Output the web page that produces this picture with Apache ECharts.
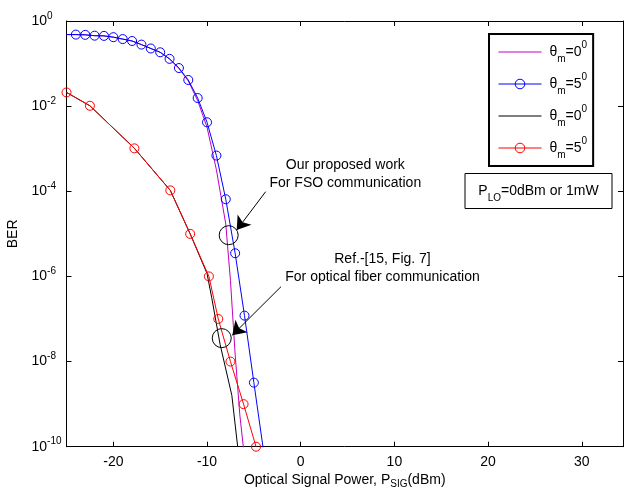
<!DOCTYPE html>
<html><head><meta charset="utf-8">
<script src="https://cdn.jsdelivr.net/npm/echarts@6/dist/echarts.min.js"></script>
<style>html,body{margin:0;padding:0;background:#fff}#c{width:625px;height:490px}</style>
</head><body><div id="c"></div>
<script>
const FONT = '"Liberation Sans", Arial, Helvetica, sans-serif';

// tick labels
const xTicks = [-20, -10, 0, 10, 20, 30];
const yTicks = [1e-10, 1e-8, 1e-6, 1e-4, 1e-2, 1];

// series names and legend angles
const seriesNames = ['FSO θm=0', 'FSO θm=5', 'Fiber θm=0', 'Fiber θm=5'];
const legendAngles = ['0', '5', '0', '5'];

// magenta: theta_m = 0 (our work, FSO)
const magX = [-25, -24, -23, -22, -21, -20, -19, -18, -17, -16, -15, -14, -13, -12, -11, -10, -9, -8, -7.5, -7, -6.5, -6];
const magY = [0.48, 0.479, 0.473, 0.452, 0.447, 0.417, 0.376, 0.339, 0.279, 0.226, 0.184, 0.128, 0.077, 0.039, 0.0135, 3.2e-3, 3.2e-4, 1.7e-5, 8.1e-7, 1.5e-8, 5.6e-10, 5.5e-11];

// blue: theta_m = 5 (our work, FSO), markers from -24 to -5
const blueX = [-25, -24, -23, -22, -21, -20, -19, -18, -17, -16, -15, -14, -13, -12, -11, -10, -9, -8, -7, -6, -5, -4];
const blueY = [0.48, 0.479, 0.473, 0.452, 0.447, 0.417, 0.376, 0.339, 0.279, 0.226, 0.184, 0.129, 0.0785, 0.0411, 0.0155, 4.17e-3, 6.9e-4, 6.5e-5, 3.5e-6, 1.2e-7, 3.2e-9, 8.9e-11];

// black: theta_m = 0 (Ref. fiber)
const blackX = [-25, -22.5, -17.75, -13.92, -11.8, -10.0, -9.5, -8.6, -7.35, -6.73];
const blackY = [0.021, 0.0102, 1.02e-3, 1.05e-4, 1.0e-5, 1.17e-6, 3.16e-7, 2.5e-8, 1.6e-9, 1.0e-10];

// red: theta_m = 5 (Ref. fiber)
const redX = [-25, -22.5, -17.75, -13.92, -11.8, -9.8, -8.8, -7.5, -6.1, -4.77];
const redY = [0.021, 0.0102, 1.02e-3, 1.05e-4, 1.0e-5, 1.0e-6, 1.0e-7, 1.0e-8, 1.0e-9, 1.0e-10];

// annotations (data coordinates)
const annotCircles = [[-7.69, 9.3e-6], [-8.43, 3.55e-8]];
const annotArrows = [[[-3.74, 9.8e-5], [-6.83, 1.23e-5]], [[-2.10, 5.75e-7], [-7.30, 4.17e-8]]];
const annotTexts = [
  { text: 'Our proposed work\nFor FSO communication', at: [4.76, 2.48e-4] },
  { text: 'Ref.-[15, Fig. 7]\nFor optical fiber communication', at: [8.73, 1.53e-6] }
];
const ploText = ['P', 'LO', '=0dBm or 1mW'];

const MAG = '#c000c0', BLUE = '#0000ff', BLACK = '#000000', RED = '#ff0000';
const seriesColors = [MAG, BLUE, BLACK, RED];
const seriesHasMarker = [false, true, false, true];

const richSmall = {
  t: { fontSize: 14, lineHeight: 24, fontFamily: FONT, color: '#000' },
  s: { fontSize: 10, lineHeight: 10, verticalAlign: 'bottom', fontFamily: FONT, color: '#000' },
  p: { fontSize: 10, lineHeight: 10, verticalAlign: 'top', fontFamily: FONT, color: '#000' }
};

function lineSeries(name, xs, ys, color, marker, markerFilter) {
  const data = xs.map((x, i) => {
    const item = { value: [x, ys[i]] };
    if (marker && markerFilter && !markerFilter(i)) item.symbol = 'none';
    return item;
  });
  return {
    name: name, type: 'line', data: data,
    symbol: marker ? 'circle' : 'none', symbolSize: 9, showSymbol: !!marker,
    color: color,
    lineStyle: { color: color, width: 1 },
    itemStyle: marker ? { color: 'rgba(255,255,255,0)', borderColor: color, borderWidth: 1 } : { color: color },
    emphasis: { disabled: true }, animation: false, clip: true
  };
}

const series = [
  lineSeries(seriesNames[0], magX, magY, MAG, false),
  lineSeries(seriesNames[1], blueX, blueY, BLUE, true, i => i > 0 && i < blueX.length - 1),
  lineSeries(seriesNames[2], blackX, blackY, BLACK, false),
  lineSeries(seriesNames[3], redX, redY, RED, true, () => true)
];

// annotations on the black series
series[2].markPoint = {
  silent: true, animation: false,
  data: annotCircles.map(c => ({
    coord: c, symbol: 'circle', symbolSize: 19,
    itemStyle: { color: 'rgba(0,0,0,0)', borderColor: '#000', borderWidth: 1 },
    label: { show: false }
  })).concat(annotTexts.map(t => ({
    coord: t.at, symbol: 'circle', symbolSize: 1,
    itemStyle: { color: 'rgba(0,0,0,0)' },
    label: { show: true, position: 'inside', formatter: t.text, fontSize: 14, lineHeight: 18, fontFamily: FONT, color: '#000', align: 'center', verticalAlign: 'middle' }
  })))
};
series[2].markLine = {
  silent: true, animation: false,
  symbol: ['none', 'arrow'], symbolSize: 13,
  lineStyle: { color: '#000', width: 1, type: 'solid' },
  label: { show: false },
  data: annotArrows.map(a => [{ coord: a[0] }, { coord: a[1] }])
};

const legendData = seriesNames.map((n, i) => seriesHasMarker[i]
  ? { name: n }
  : { name: n, icon: 'path://M0,0H43V1H0Z', itemStyle: { color: seriesColors[i] } });

const chart = echarts.init(document.getElementById('c'), null, { renderer: 'canvas' });
chart.setOption({
  backgroundColor: '#fff',
  animation: false,
  textStyle: { fontFamily: FONT },
  grid: { left: 66.5, right: 2, top: 21, bottom: 43.3, containLabel: false, outerBoundsMode: 'none' },
  xAxis: [{
    type: 'value', min: -25, max: 34.4, position: 'bottom',
    axisLine: { show: true, onZero: false, lineStyle: { color: '#000', width: 1 } },
    axisTick: { show: true, inside: true, length: 5, customValues: xTicks, lineStyle: { color: '#000' } },
    axisLabel: { show: true, customValues: xTicks, fontSize: 14, color: '#000', margin: 8, fontFamily: FONT },
    splitLine: { show: false },
    name: '{t|Optical Signal Power, P}{s|SIG}{t|(dBm)}',
    nameLocation: 'middle', nameGap: 24,
    nameTextStyle: { rich: { t: { fontSize: 14, lineHeight: 18, fontFamily: FONT, color: '#000' }, s: { fontSize: 10, lineHeight: 10, verticalAlign: 'bottom', fontFamily: FONT, color: '#000' } } }
  }, {
    type: 'value', min: -25, max: 34.4, position: 'top',
    axisLine: { show: true, onZero: false, lineStyle: { color: '#000', width: 1 } },
    axisTick: { show: true, inside: true, length: 5, customValues: xTicks, lineStyle: { color: '#000' } },
    axisLabel: { show: false }, splitLine: { show: false }
  }],
  yAxis: [{
    type: 'log', logBase: 10, min: 1e-10, max: 1, position: 'left',
    axisLine: { show: true, onZero: false, lineStyle: { color: '#000', width: 1 } },
    axisTick: { show: true, inside: true, length: 5, customValues: yTicks, lineStyle: { color: '#000' } },
    axisLabel: {
      show: true, customValues: yTicks, align: 'left', margin: 35,
      formatter: v => '{b|10}{p|' + Math.round(Math.log10(v)) + '}',
      rich: {
        b: { fontSize: 14, lineHeight: 20, fontFamily: FONT, color: '#000' },
        p: { fontSize: 10, lineHeight: 10, verticalAlign: 'top', fontFamily: FONT, color: '#000' }
      }
    },
    minorTick: { show: false }, splitLine: { show: false },
    name: 'BER', nameLocation: 'middle', nameGap: 46,
    nameTextStyle: { fontSize: 14, color: '#000', fontFamily: FONT }
  }, {
    type: 'log', logBase: 10, min: 1e-10, max: 1, position: 'right',
    axisLine: { show: true, onZero: false, lineStyle: { color: '#000', width: 1 } },
    axisTick: { show: true, inside: true, length: 5, customValues: yTicks, lineStyle: { color: '#000' } },
    axisLabel: { show: false }, splitLine: { show: false }
  }],
  legend: {
    orient: 'vertical', left: 489, top: 34,
    padding: [6, 6, 6, 9], itemGap: 8, itemWidth: 43, itemHeight: 12,
    borderColor: '#000', borderWidth: 2, backgroundColor: '#fff',
    selectedMode: false, symbolKeepAspect: true,
    lineStyle: { width: 1 },
    itemStyle: { borderWidth: 1 },
    data: legendData,
    formatter: name => {
      const i = seriesNames.indexOf(name);
      return '{t|θ}{s|m}{t|=' + legendAngles[i] + '}{p|0}';
    },
    textStyle: { padding: [0, 0, 0, 3], rich: richSmall }
  },
  graphic: [{
    type: 'group', left: 464.5, top: 173, silent: true,
    children: [
      { type: 'rect', shape: { x: 0, y: 0, width: 147, height: 35 }, style: { fill: '#fff', stroke: '#000', lineWidth: 1 } },
      { type: 'text', style: { x: 73.5, y: 17.5, align: 'center', verticalAlign: 'middle',
          text: '{t|' + ploText[0] + '}{s|' + ploText[1] + '}{t|' + ploText[2] + '}', rich: richSmall } }
    ]
  }],
  series: series
});
</script>
</body></html>
